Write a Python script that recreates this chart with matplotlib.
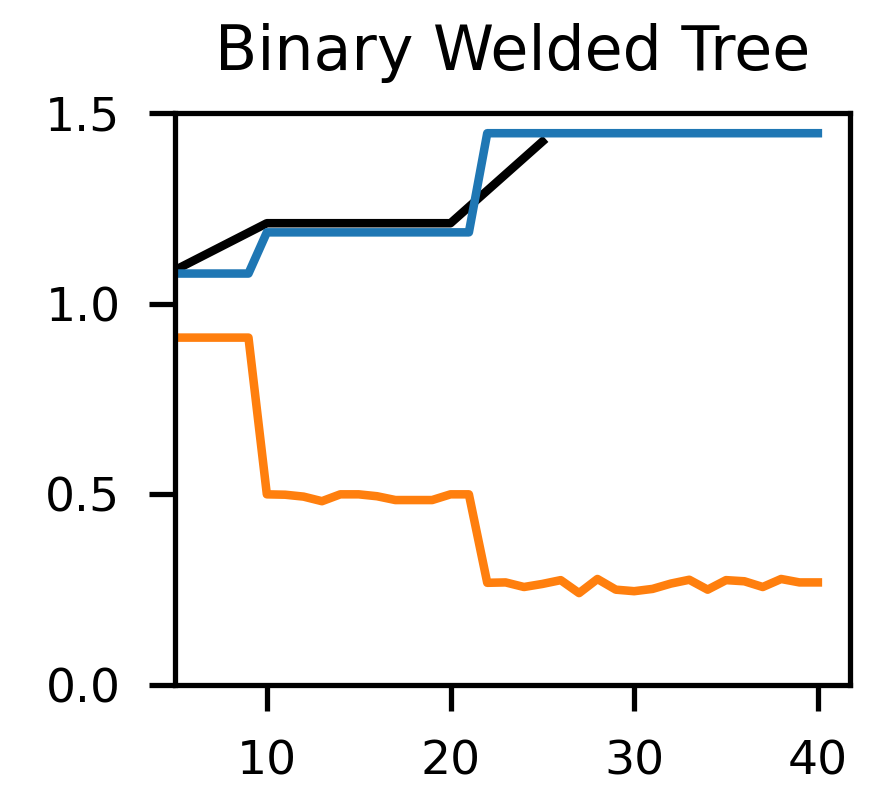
import matplotlib
matplotlib.use("Agg")
import matplotlib.pyplot as plt

# Data
bound_x = [5, 10, 15, 20, 25]
bound_y = [1.088, 1.211, 1.211, 1.211, 1.425]

n_values = list(range(5, 41))
blue_y = [1.079] * 5 + [1.187] * 12 + [1.447] * 19
orange_y = [0.911, 0.911, 0.911, 0.911, 0.911,
            0.500, 0.499, 0.494, 0.482, 0.500, 0.500, 0.495, 0.485, 0.485, 0.485, 0.500, 0.500,
            0.268, 0.269, 0.257, 0.265, 0.275, 0.241, 0.278, 0.250, 0.246, 0.252, 0.266,
            0.276, 0.250, 0.275, 0.272, 0.257, 0.278, 0.269, 0.269]

xticks = [10, 20, 30, 40]
yticks = [0.0, 0.5, 1.0, 1.5]
title = "Binary Welded Tree"

DPI = 473
fig = plt.figure(figsize=(871 / DPI, 787 / DPI), dpi=DPI)
ax = fig.add_axes([175 / 871, 1 - 685 / 787, (850 - 175) / 871, (685 - 113) / 787])

lw = 1.3
ax.plot(bound_x, bound_y, color="black", lw=lw)
ax.plot(n_values, blue_y, color="#1f77b4", lw=lw)
ax.plot(n_values, orange_y, color="#ff7f0e", lw=lw)

ax.set_xlim(5, 41.75)
ax.set_ylim(0, 1.5)
ax.set_xticks(xticks)
ax.set_yticks(yticks)
ax.tick_params(labelsize=7.2, length=3.9, pad=4.4)
ax.set_title(title, fontsize=9.4, pad=6.5)

fig.savefig("out.png", dpi=DPI)
